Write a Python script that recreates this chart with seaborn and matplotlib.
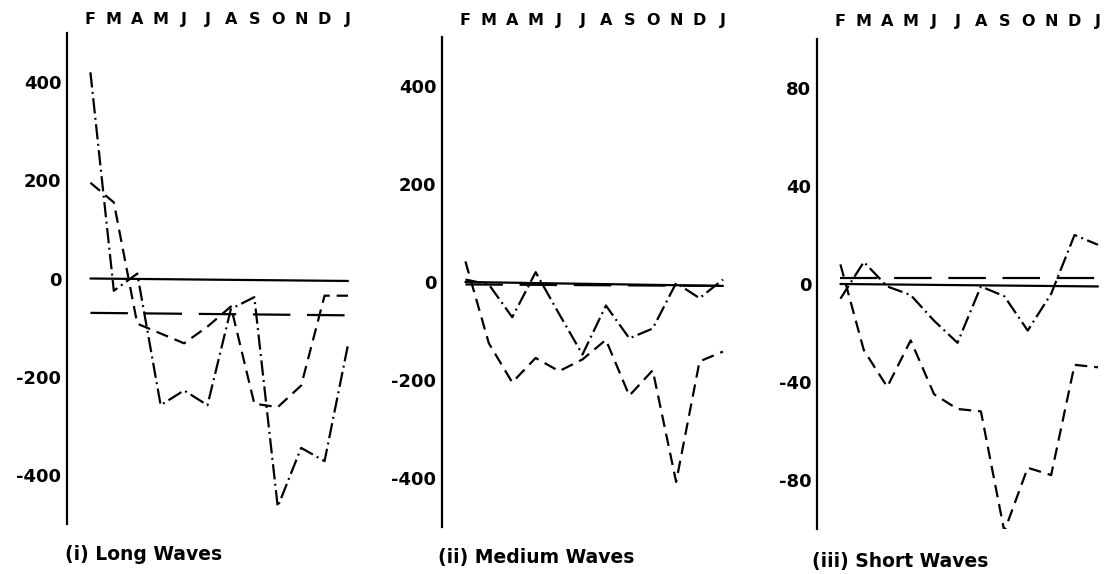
import matplotlib
matplotlib.use("Agg")
import matplotlib.pyplot as plt
import seaborn as sns
import pandas as pd

sns.set_style("white")
plt.rcParams["font.family"] = ["DejaVu Sans"]
plt.rcParams["axes.unicode_minus"] = False
plt.rcParams["lines.scale_dashes"] = False
for key in ["text.color", "axes.labelcolor", "xtick.color", "ytick.color"]:
    plt.rcParams[key] = "black"

months = ["F", "M", "A", "M", "J", "J", "A", "S", "O", "N", "D", "J"]

# (i) Long waves
long_dashdot = [420, -25, 10, -258, -228, -258, -62, -38, -465, -345, -372, -135]
long_dashed = [195, 155, -92, -112, -132, -98, -57, -255, -262, -218, -35, -35]
long_solid = [0, -5]
long_longdash = [-70, -75]

# (ii) Medium waves
medium_dashdot = [5, -5, -72, 20, -65, -148, -48, -115, -95, -2, -33, 5]
medium_dashed = [42, -125, -205, -155, -182, -158, -118, -232, -180, -408, -162, -142]
medium_solid = [0, -8]
medium_longdash = [-5, -8]

# (iii) Short waves
short_dashdot = [-6, 9, -1, -4.5, -15, -24, -1, -5, -19, -4, 20, 16]
short_dashed = [8, -27, -42, -23, -45, -51, -52, -101, -75, -78, -33, -34]
short_solid = [0, -1]
short_longdash = [2.5, 2.5]

panels = [
    dict(title="(i) Long Waves", dashdot=long_dashdot, dashed=long_dashed,
         solid=long_solid, longdash=long_longdash,
         ylim=(-500, 500), yticks=[-400, -200, 0, 200, 400]),
    dict(title="(ii) Medium Waves", dashdot=medium_dashdot, dashed=medium_dashed,
         solid=medium_solid, longdash=medium_longdash,
         ylim=(-500, 500), yticks=[-400, -200, 0, 200, 400]),
    dict(title="(iii) Short Waves", dashdot=short_dashdot, dashed=short_dashed,
         solid=short_solid, longdash=short_longdash,
         ylim=(-100, 100), yticks=[-80, -40, 0, 40, 80]),
]

W, H = 1106, 574
fig = plt.figure(figsize=(W / 100, H / 100), dpi=100)

# axes boxes in pixels: left, top, bottom
boxes = [(67, 33, 524), (442, 37, 527), (817, 39, 529)]
label_pads = [4.0, 6.5, 7.5]
title_pos = [(65, 555), (438, 558), (812, 562)]
axis_w = 288

styles = {
    "dashdot": (0, (11, 3.2, 1.4, 3.2)),
    "dashed": (0, (9, 5)),
    "solid": "-",
    "longdash": (0, (27, 12)),
}

for p, (left, top, bottom), lpad, (tx, ty) in zip(panels, boxes, label_pads, title_pos):
    ax = fig.add_axes([left / W, 1 - bottom / H, axis_w / W, (bottom - top) / H])
    idx = list(range(len(months)))
    for key in ["solid", "longdash", "dashed", "dashdot"]:
        vals = p[key]
        xs = idx if len(vals) == len(idx) else [idx[0], idx[-1]]
        df = pd.DataFrame({"month": xs, "value": vals})
        sns.lineplot(data=df, x="month", y="value", ax=ax, color="black",
                     linewidth=1.6, linestyle=styles[key], sort=False)
    ax.set_xlim(-1, 11.3)
    ax.set_ylim(*p["ylim"])
    ax.set_yticks(p["yticks"])
    ax.set_yticklabels([str(v) for v in p["yticks"]], fontsize=13, fontweight="bold")
    ax.xaxis.tick_top()
    ax.set_xticks(idx)
    ax.set_xticklabels(months, fontsize=11.5, fontweight="bold")
    ax.tick_params(axis="x", length=0, pad=lpad)
    ax.tick_params(axis="y", direction="in", length=13.5, width=1.4, pad=4, colors="black")
    ax.set_xlabel("")
    ax.set_ylabel("")
    for s in ["top", "right", "bottom"]:
        ax.spines[s].set_visible(False)
    ax.spines["left"].set_linewidth(1.6)
    ax.spines["left"].set_color("black")
    ax.patch.set_alpha(0)
    fig.text(tx / W, 1 - ty / H, p["title"], fontsize=13.5, fontweight="bold",
             ha="left", va="center", color="black")

fig.savefig("out.png", dpi=100, facecolor="white")
